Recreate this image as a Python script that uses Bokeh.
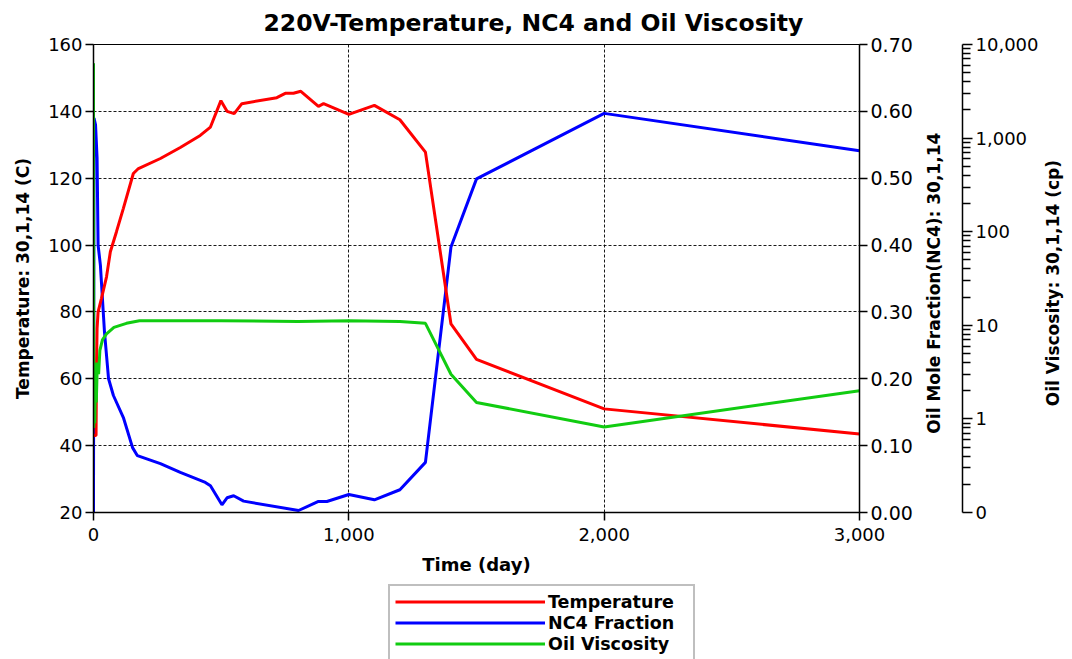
import math
from bokeh.plotting import figure
from bokeh.layouts import column, row
from bokeh.core.properties import value
from bokeh.models import (LinearAxis, Range1d, LogScale, LinearScale, FixedTicker,
                          NumeralTickFormatter, CustomJSTickFormatter, Legend, LegendItem)
from bokeh.embed import file_html
from bokeh.resources import INLINE

# ---------------- data ----------------
temp_day = [0, 10, 12, 14, 18, 31, 51, 66, 90, 117, 156, 176, 262, 340, 418, 458, 499, 523, 551,
            581, 718, 751, 783, 812, 881, 901, 1000, 1100, 1200, 1300, 1400, 1500, 2000, 3000]
temperature = [43, 43, 65, 75, 80, 84, 90.5, 98, 104, 111, 121.4, 122.9, 125.9, 129.2, 132.8, 135.3,
               143.2, 140.0, 139.3, 142.3, 144.1, 145.4, 145.4, 146.0, 141.5, 142.3, 139.1, 141.8,
               137.5, 127.8, 76.4, 65.8, 51.0, 43.5]

nc4_day = [0, 2, 8, 14, 18, 27, 43, 59, 78, 117, 153, 172, 262, 340, 438, 458, 503, 523, 549, 588,
           803, 881, 914, 1000, 1100, 1200, 1300, 1400, 1500, 2000, 3000]
nc4_fraction = [0.0, 0.59, 0.58, 0.53, 0.40, 0.37, 0.27, 0.20, 0.175, 0.142, 0.097, 0.085, 0.073,
                0.060, 0.045, 0.040, 0.0115, 0.022, 0.025, 0.017, 0.003, 0.0165, 0.0165, 0.027,
                0.019, 0.034, 0.075, 0.397, 0.499, 0.597, 0.541]

visc_day = [0, 1, 3, 5, 8, 11, 15, 20, 25, 35, 51, 80, 129, 180, 500, 800, 1000, 1200, 1300,
            1400, 1500, 2000, 3000]
viscosity = [6300, 0.8, 4.0, 0.9, 3.0, 1.5, 4.0, 3.0, 5.4, 7.0, 8.1, 9.5, 10.5, 11.2, 11.2, 11.0,
             11.2, 11.0, 10.5, 3.0, 1.5, 0.82, 2.0]

x_ticks = [0, 1000, 2000, 3000]
temp_ticks = [20, 40, 60, 80, 100, 120, 140, 160]
nc4_ticks = [0.0, 0.1, 0.2, 0.3, 0.4, 0.5, 0.6, 0.7]
visc_ticks = [0.1, 1, 10, 100, 1000, 10000]
visc_minor = [m * 10.0 ** e for e in range(-1, 4) for m in range(2, 10)]

series_names = ["Temperature", "NC4 Fraction", "Oil Viscosity"]
series_colors = ["#FF0000", "#0000FF", "#11CC11"]
nc4_title = "Oil Mole Fraction(NC4): 30,1,14"
visc_title = "Oil Viscosity: 30,1,14 (cp)"

FONT = "DejaVu Sans"
TOP, BOTTOM = 44, 68

def style_axis(ax, tick_out=8):
    ax.axis_line_color = "black"
    ax.axis_line_width = 1.5
    ax.major_tick_line_color = "black"
    ax.major_tick_line_width = 1.5
    ax.major_tick_out = tick_out
    ax.major_tick_in = 0
    ax.minor_tick_line_color = None
    ax.major_label_text_font = FONT
    ax.major_label_text_font_size = "18px"
    ax.major_label_text_color = "black"
    ax.axis_label_text_font = FONT
    ax.axis_label_text_font_style = "bold"
    ax.axis_label_text_font_size = "17px"
    ax.axis_label_text_color = "black"

# ---------------- main chart ----------------
p = figure(width=915, height=580, output_backend="svg", toolbar_location=None,
           x_range=Range1d(0, 3000), y_range=Range1d(20, 160),
           min_border_left=93, min_border_right=55, min_border_top=TOP, min_border_bottom=BOTTOM,
           background_fill_color="white", border_fill_color="white")
p.outline_line_color = "black"
p.outline_line_width = 1

p.extra_y_ranges = {"nc4": Range1d(0, 0.7), "visc": Range1d(0.1, 10000)}
p.extra_y_scales = {"nc4": LinearScale(), "visc": LogScale()}

p.title.text = "220V-Temperature, NC4 and Oil Viscosity"
p.title.align = "left"
p.title.offset = 170
p.title.text_font = FONT
p.title.text_font_style = "bold"
p.title.text_font_size = "23.5px"
p.title.text_color = "black"
p.title.standoff = 12
p.title.vertical_align = "top"

xa = p.xaxis[0]
style_axis(xa)
xa.ticker = FixedTicker(ticks=x_ticks)
xa.formatter = NumeralTickFormatter(format="0,0")
xa.axis_label = "Time (day)"
xa.axis_label_text_font_size = "18px"
xa.major_label_standoff = 7
xa.axis_label_standoff = 10

ya = p.yaxis[0]
style_axis(ya)
ya.ticker = FixedTicker(ticks=temp_ticks)
ya.axis_label = "Temperature: 30,1,14 (C)"
ya.major_label_standoff = 3
ya.axis_label_standoff = 12

p.xgrid.ticker = FixedTicker(ticks=[1000, 2000])
p.ygrid.ticker = FixedTicker(ticks=[40, 60, 80, 100, 120, 140])
for g in (p.xgrid[0], p.ygrid[0]):
    g.grid_line_color = "black"
    g.grid_line_dash = "3 2"
    g.grid_line_width = 1
    g.grid_line_alpha = 0.9

nc4_axis = LinearAxis(y_range_name="nc4", ticker=FixedTicker(ticks=nc4_ticks),
                      formatter=NumeralTickFormatter(format="0.00"))
style_axis(nc4_axis)
nc4_axis.major_label_text_font_size = "19px"
nc4_axis.major_label_standoff = 3
p.add_layout(nc4_axis, "right")

p.line(nc4_day, nc4_fraction, y_range_name="nc4", line_color=series_colors[1], line_width=3)
p.line(temp_day, temperature, line_color=series_colors[0], line_width=3)
p.line(visc_day, viscosity, y_range_name="visc", line_color=series_colors[2], line_width=3)

# ---------------- NC4 title strip + viscosity axis ----------------
v = figure(width=126, height=580, output_backend="svg", toolbar_location=None,
           x_range=Range1d(0, 1), y_range=Range1d(0.1, 10000), y_axis_type="log",
           x_axis_location=None, y_axis_location="right",
           min_border_left=0, min_border_right=76, min_border_top=TOP, min_border_bottom=BOTTOM,
           background_fill_color="white", border_fill_color="white")
v.outline_line_color = None
v.xgrid.visible = False
v.ygrid.visible = False
v.extra_y_ranges = {"lab": Range1d(0, 1)}
v.extra_y_scales = {"lab": LinearScale()}
va = v.yaxis[0]
style_axis(va, tick_out=10)
va.ticker = FixedTicker(ticks=visc_ticks, minor_ticks=visc_minor)
va.formatter = CustomJSTickFormatter(code="""
    if (tick < 0.5) { return '0'; }
    return Math.round(tick).toLocaleString('en-US');
""")
va.minor_tick_line_color = "black"
va.minor_tick_line_width = 1.5
va.minor_tick_out = 8
va.minor_tick_in = 0
va.major_label_text_font_size = "18px"
va.major_label_standoff = 3
v.text(x=[0.4], y=[0.49], text=[nc4_title], y_range_name="lab", angle=math.pi / 2,
       text_font=value(FONT), text_font_style="bold", text_font_size="17px",
       text_align="center", text_baseline="middle", text_color="black")

# ---------------- viscosity title strip ----------------
t = figure(width=31, height=580, output_backend="svg", toolbar_location=None,
           x_range=Range1d(0, 1), y_range=Range1d(0, 1),
           x_axis_location=None, y_axis_location=None,
           min_border_left=0, min_border_right=0, min_border_top=TOP, min_border_bottom=BOTTOM,
           background_fill_color="white", border_fill_color="white")
t.outline_line_color = None
t.xgrid.visible = False
t.ygrid.visible = False
t.text(x=[0.36], y=[0.49], text=[visc_title], angle=math.pi / 2,
       text_font=value(FONT), text_font_style="bold", text_font_size="17px",
       text_align="center", text_baseline="middle", text_color="black")

# ---------------- legend strip ----------------
lf = figure(width=1072, height=79, output_backend="svg", toolbar_location=None,
            x_range=Range1d(-2, -1), y_range=Range1d(-2, -1),
            x_axis_location=None, y_axis_location=None,
            min_border_left=93, min_border_right=212, min_border_top=0, min_border_bottom=0,
            background_fill_color="white", border_fill_color="white")
lf.outline_line_color = None
lf.xgrid.visible = False
lf.ygrid.visible = False
series_x = [temp_day, nc4_day, visc_day]
series_y = [temperature, nc4_fraction, viscosity]
items = []
for name, col, xs, ys in zip(series_names, series_colors, series_x, series_y):
    r = lf.line(xs, ys, line_color=col, line_width=3)
    items.append(LegendItem(label=name, renderers=[r]))
legend = Legend(items=items, location=(295, -2), orientation="vertical",
                glyph_width=150, glyph_height=21, label_height=21, label_width=140,
                spacing=0, padding=5, margin=0, label_standoff=3,
                border_line_color="#808080", border_line_width=2,
                label_text_font=FONT, label_text_font_style="bold",
                label_text_font_size="17.5px", label_text_color="black",
                background_fill_color="white")
lf.add_layout(legend, "center")

layout = column(row(p, v, t, spacing=0), lf, spacing=0)
open("out.html", "w").write(file_html(layout, INLINE))
